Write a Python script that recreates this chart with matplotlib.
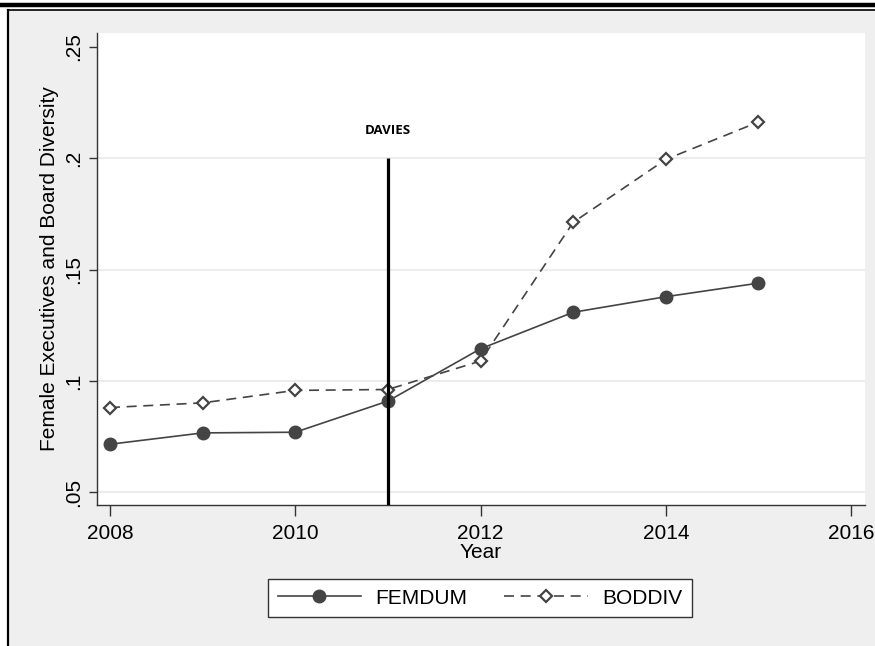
import numpy as np
import matplotlib.pyplot as plt
from matplotlib.lines import Line2D

plt.rcParams['font.family'] = ['Liberation Sans', 'DejaVu Sans']

years = [2008, 2009, 2010, 2011, 2012, 2013, 2014, 2015]
femdum = [0.0715, 0.0766, 0.0769, 0.0909, 0.1144, 0.1308, 0.1378, 0.1439]
boddiv = [0.0880, 0.0901, 0.0957, 0.0961, 0.1089, 0.1712, 0.1995, 0.2163]

x_ticks = [2008, 2010, 2012, 2014, 2016]
y_ticks = [0.05, 0.10, 0.15, 0.20, 0.25]
y_tick_labels = ['.05', '.1', '.15', '.2', '.25']
event_year = 2011
event_label = 'DAVIES'

W, H = 875, 646
fig = plt.figure(figsize=(W / 100, H / 100), dpi=100, facecolor='#efefef')
ax = fig.add_axes([97 / W, 1 - 505 / H, (865 - 97) / W, (505 - 33) / H])
ax.set_facecolor('white')

ylo, yhi = 0.0442, 0.2563
ax.set_xlim(2007.86, 2016.15)
ax.set_ylim(ylo, yhi)

# light horizontal grid (Stata style, no line at the top tick)
for yv in y_ticks[:-1]:
    ax.axhline(yv, color='#eaeaea', lw=1.3, zorder=0)

line_col = '#444444'
ax.plot(years, femdum, color=line_col, lw=1.2, marker='o', ms=9,
        mfc=line_col, mec=line_col, zorder=3, label='FEMDUM')
ax.plot(years, boddiv, color=line_col, lw=1.2, ls=(0, (6, 4)), marker='D', ms=6,
        mfc='white', mec=line_col, mew=1.6, zorder=3, label='BODDIV')

# event line
ax.vlines(event_year, ylo, 0.2, color='black', lw=2.3, zorder=4)
ax.text(event_year, 0.2125, event_label, ha='center', va='center',
        fontsize=9.5, fontweight='bold', family=['Open Sans', 'DejaVu Sans'])

ax.set_xticks(x_ticks)
ax.set_yticks(y_ticks)
ax.set_yticklabels(y_tick_labels, rotation=90, va='center')
ax.tick_params(axis='both', direction='out', length=6, width=1, color='#333333',
               labelsize=15, pad=4)
ax.tick_params(axis='x', length=8, pad=6)

for s in ['top', 'right']:
    ax.spines[s].set_visible(False)
for s in ['left', 'bottom']:
    ax.spines[s].set_color('#333333')
    ax.spines[s].set_linewidth(1.0)

ax.set_xlabel('Year', fontsize=15, labelpad=0)
ax.set_ylabel('Female Executives and Board Diversity', fontsize=15, labelpad=4)

leg = ax.legend(loc='center', bbox_to_anchor=(480 / W, 1 - 598 / H),
                bbox_transform=fig.transFigure, ncol=2, fontsize=15,
                frameon=True, fancybox=False, framealpha=1, edgecolor='#333333',
                handlelength=4.0, handletextpad=0.7, columnspacing=1.75,
                borderpad=0.45, borderaxespad=0)
leg.get_frame().set_linewidth(1.0)

# outer frame lines
fig.add_artist(Line2D([0, 1], [1 - 5 / H, 1 - 5 / H], color='black', lw=3.2,
                      transform=fig.transFigure))
fig.add_artist(Line2D([8 / W, 1], [1 - 10 / H, 1 - 10 / H], color='black', lw=1.2,
                      transform=fig.transFigure))
fig.add_artist(Line2D([8 / W, 8 / W], [0, 1 - 10 / H], color='black', lw=1.6,
                      transform=fig.transFigure))
# white strip between frame and grey area
fig.patches.append(plt.Rectangle((0, 0), 7 / W, 1, transform=fig.transFigure,
                                 color='white', zorder=-1))
fig.patches.append(plt.Rectangle((0, 1 - 9 / H), 1, 9 / H, transform=fig.transFigure,
                                 color='white', zorder=-1))

fig.savefig('out.png', dpi=100, facecolor=fig.get_facecolor())
